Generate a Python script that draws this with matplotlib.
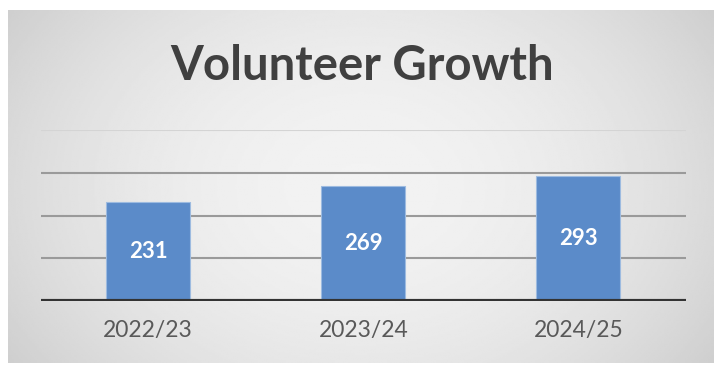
import matplotlib.pyplot as plt
import numpy as np

years = ["2022/23", "2023/24", "2024/25"]
volunteers = [231, 269, 293]
grid_values = [100, 200, 300, 400]

W, H = 714, 365
fig = plt.figure(figsize=(W / 100, H / 100), dpi=100)
fig.patch.set_facecolor("white")

# gradient panel background
bg = fig.add_axes([8 / W, 2 / H, 706 / W, 353 / H])
yy, xx = np.mgrid[-1:1:200j, -1:1:400j]
r = np.sqrt((xx * 0.9) ** 2 + (yy * 0.6) ** 2)
shade = 0.95 - 0.12 * np.clip(r, 0, 1.3) ** 2
bg.imshow(shade, cmap="gray", vmin=0, vmax=1, aspect="auto", extent=[0, 1, 0, 1])
bg.set_axis_off()

ax = fig.add_axes([40.5 / W, (H - 301) / H, (686 - 40.5) / W, 171 / H])
ax.patch.set_alpha(0)
x = np.arange(len(years))
bars = ax.bar(x, volunteers, width=0.39, color="#5b8bc9", edgecolor="#9dbbe0",
              linewidth=0.8, zorder=3)
for gv in grid_values[:-1]:
    ax.axhline(gv, color="#9a9a9a", linewidth=1.5, zorder=1)
ax.axhline(grid_values[-1], color="#d4d4d4", linewidth=1.5, zorder=1)
ax.axhline(0, color="#333333", linewidth=3, zorder=4)
ax.bar_label(bars, labels=[str(v) for v in volunteers], label_type="center",
             color="white", fontsize=16, fontweight="bold", family="Lato")

ax.set_xlim(-0.5, len(years) - 0.5)
ax.set_ylim(0, 400)
ax.set_yticks([])
ax.set_xticks(x, years)
ax.tick_params(axis="x", length=0, pad=14, labelsize=16.5, labelcolor="#595959")
for lbl in ax.get_xticklabels():
    lbl.set_family("Lato")
for s in ax.spines.values():
    s.set_visible(False)

fig.text(362 / W, 1 - 66 / H, "Volunteer Growth", ha="center", va="center",
         fontsize=34, fontweight="bold", color="#404040", family="Lato")

fig.savefig("out.png", dpi=100)
